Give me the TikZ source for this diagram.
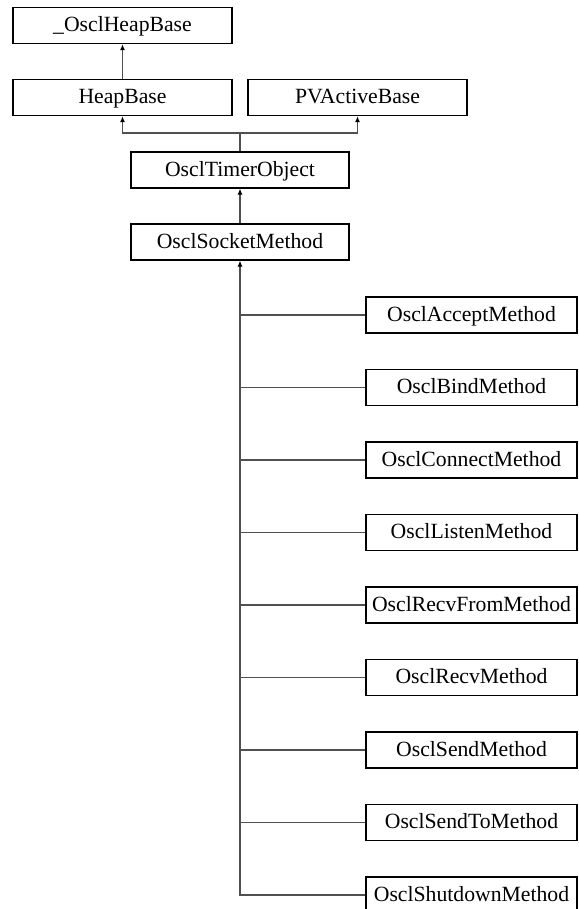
\documentclass[tikz,border=0pt]{standalone}
\usepackage{fontspec}
\setmainfont{Liberation Serif}
\usetikzlibrary{arrows.meta}
\definecolor{boxline}{RGB}{0,0,0}
\definecolor{linkline}{RGB}{80,80,80}

\begin{document}
\begin{tikzpicture}[
  x=1pt, y=-1pt,
  every node/.style={
    draw=boxline, line width=1.3pt, fill=white, inner sep=0pt,
    minimum height=36pt, text height=16pt, text depth=3.5pt,
    font=\fontsize{21.7}{26}\selectfont
  },
  topbox/.style={minimum width=219pt},
  midbox/.style={minimum width=218pt},
  subbox/.style={minimum width=211pt},
  edge/.style={draw=linkline, line width=1.1pt},
  arr/.style={edge, -{Latex[length=6pt,width=5pt,color=black]}},
]
\useasboundingbox (0,0) rectangle (578,909);

% ---- Base classes ----
\node (oheap) at (122.5, 25.5) [topbox] {\_OsclHeapBase};
\node (heap)  at (122.5, 97.5) [topbox] {HeapBase};
\node (pv)    at (357.5, 97.5) [topbox] {PVActiveBase};

\node (timer) at (240, 170) [midbox] {OsclTimerObject};
\node (sock)  at (240, 242) [midbox] {OsclSocketMethod};

% ---- Derived methods ----
\node (accept)   at (471.5, 315.0) [subbox] {OsclAcceptMethod};
\node (bind)     at (471.5, 387.5) [subbox] {OsclBindMethod};
\node (connect)  at (471.5, 460.0) [subbox] {OsclConnectMethod};
\node (listen)   at (471.5, 532.5) [subbox] {OsclListenMethod};
\node (recvfrom) at (471.5, 605.0) [subbox] {OsclRecvFromMethod};
\node (recv)     at (471.5, 677.5) [subbox] {OsclRecvMethod};
\node (send)     at (471.5, 750.0) [subbox] {OsclSendMethod};
\node (sendto)   at (471.5, 822.5) [subbox] {OsclSendToMethod};
\node (shut)     at (471.5, 895.0) [subbox] {OsclShutdownMethod};

% ---- Edges ----
\coordinate (fork) at (240, 133);
\draw[arr] (heap) -- (oheap);
\draw[arr] (timer.north) -- (fork) -| (heap.south);
\draw[arr] (fork) -| (pv.south);
\draw[arr] (sock) -- (timer);

\draw[arr] (shut.west) -| (sock.south);
\foreach \c in {accept, bind, connect, listen, recvfrom, recv, send, sendto}
  \draw[edge] (sock.south |- \c.west) -- (\c.west);

\end{tikzpicture}
\end{document}
